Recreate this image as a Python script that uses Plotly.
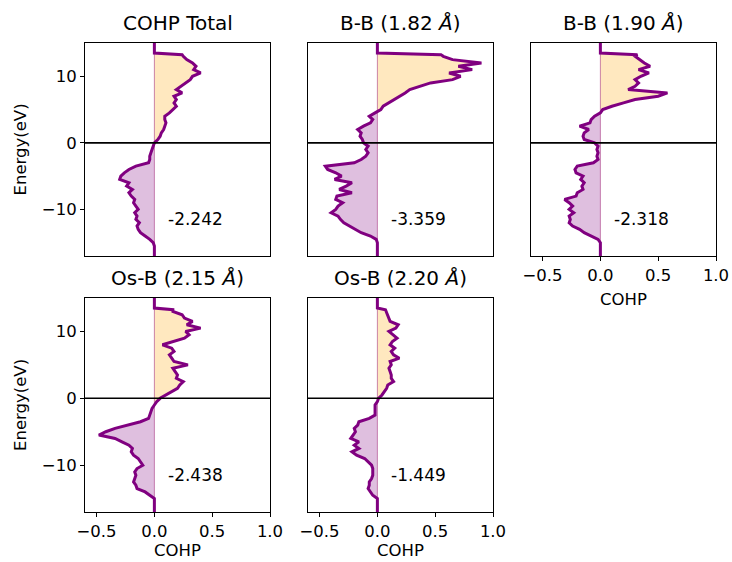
import plotly.graph_objects as go

# Energy grid (eV)
energy = [-17.0, -16.5, -16.0, -15.5, -15.0, -14.5, -14.0, -13.5, -13.0, -12.5,
          -12.0, -11.5, -11.0, -10.5, -10.0, -9.5, -9.0, -8.5, -8.0, -7.5,
          -7.0, -6.5, -6.0, -5.5, -5.0, -4.5, -4.0, -3.5, -3.0, -2.5,
          -2.0, -1.5, -1.0, -0.5, 0.0, 0.5, 1.0, 1.5, 2.0, 2.5,
          3.0, 3.5, 4.0, 4.5, 5.0, 5.5, 6.0, 6.5, 7.0, 7.5,
          8.0, 8.5, 9.0, 9.5, 10.0, 10.5, 11.0, 11.5, 12.0, 12.5,
          13.0, 13.25, 13.5, 14.0, 14.5, 15.0]

cohp_total = [0, 0, 0, 0, -0.01, -0.04, -0.08, -0.12, -0.14, -0.15,
              -0.13, -0.16, -0.15, -0.17, -0.14, -0.16, -0.18, -0.17, -0.20, -0.22,
              -0.19, -0.24, -0.22, -0.30, -0.29, -0.26, -0.22, -0.16, -0.05, -0.04,
              -0.04, -0.03, -0.02, -0.01, 0.0, 0.03, 0.05, 0.06, 0.08, 0.09,
              0.10, 0.09, 0.09, 0.13, 0.16, 0.19, 0.17, 0.19, 0.17, 0.24,
              0.19, 0.23, 0.27, 0.31, 0.33, 0.40, 0.34, 0.36, 0.33, 0.28,
              0.25, 0.24, 0.0, 0, 0, 0]

cohp_bb182 = [0, 0, 0, 0, 0, -0.01, -0.06, -0.14, -0.19, -0.25,
              -0.29, -0.32, -0.34, -0.40, -0.36, -0.34, -0.30, -0.36, -0.35, -0.22,
              -0.33, -0.27, -0.22, -0.37, -0.31, -0.36, -0.43, -0.45, -0.20, -0.14,
              -0.10, -0.08, -0.10, -0.08, -0.12, -0.13, -0.15, -0.14, -0.17, -0.12,
              -0.06, -0.04, -0.07, -0.02, 0.03, 0.05, 0.10, 0.14, 0.19, 0.24,
              0.28, 0.37, 0.46, 0.65, 0.72, 0.62, 0.82, 0.70, 0.90, 0.65,
              0.57, 0.55, 0.0, 0, 0, 0]

cohp_bb190 = [0, 0, 0, 0, 0, -0.02, -0.08, -0.14, -0.18, -0.24,
              -0.27, -0.26, -0.27, -0.23, -0.27, -0.24, -0.27, -0.31, -0.21, -0.20,
              -0.15, -0.16, -0.14, -0.17, -0.15, -0.21, -0.22, -0.20, -0.06, -0.02,
              -0.03, -0.02, -0.03, -0.02, -0.05, -0.14, -0.15, -0.14, -0.10, -0.18,
              -0.09, -0.08, -0.05, 0.0, 0.02, 0.10, 0.20, 0.30, 0.50, 0.58,
              0.24, 0.30, 0.33, 0.30, 0.35, 0.42, 0.33, 0.43, 0.38, 0.34,
              0.30, 0.32, 0.0, 0, 0, 0]

cohp_osb215 = [0, 0, 0, 0, 0, -0.04, -0.08, -0.15, -0.16, -0.18,
               -0.17, -0.16, -0.17, -0.15, -0.10, -0.12, -0.14, -0.18, -0.20, -0.19,
               -0.22, -0.28, -0.34, -0.48, -0.42, -0.34, -0.22, -0.12, -0.05, -0.04,
               -0.03, -0.02, 0.0, 0.02, 0.05, 0.10, 0.15, 0.20, 0.22, 0.25,
               0.19, 0.20, 0.18, 0.16, 0.29, 0.17, 0.15, 0.13, 0.17, 0.15,
               0.07, 0.17, 0.26, 0.30, 0.27, 0.40, 0.28, 0.33, 0.26, 0.24,
               0.16, 0.16, 0.0, 0, 0, 0]

cohp_osb220 = [0, 0, 0, 0, 0, -0.04, -0.06, -0.08, -0.07, -0.07,
               -0.05, -0.04, -0.04, -0.04, -0.05, -0.08, -0.11, -0.18, -0.22, -0.16,
               -0.20, -0.16, -0.23, -0.21, -0.19, -0.20, -0.17, -0.16, -0.07, -0.02,
               -0.02, -0.02, -0.02, 0.0, 0.01, 0.04, 0.06, 0.08, 0.09, 0.14,
               0.12, 0.12, 0.11, 0.10, 0.12, 0.11, 0.19, 0.14, 0.12, 0.15,
               0.11, 0.13, 0.17, 0.13, 0.10, 0.16, 0.18, 0.11, 0.10, 0.09,
               0.08, 0.07, 0.0, 0, 0, 0]

titles = ["COHP Total", "B-B (1.82 <i>Å</i>)", "B-B (1.90 <i>Å</i>)",
          "Os-B (2.15 <i>Å</i>)", "Os-B (2.20 <i>Å</i>)"]
icohp_labels = ["-2.242", "-3.359", "-2.318", "-2.438", "-1.449"]
series = [cohp_total, cohp_bb182, cohp_bb190, cohp_osb215, cohp_osb220]

x_ticks = [-0.5, 0.0, 0.5, 1.0]
y_ticks = [-10, 0, 10]
x_range = [-0.6, 1.0]
y_range = [-17, 15]
label_x, label_y = 0.1, -11.5

W, H = 732, 562
# panel pixel boxes on the page: (left, right, top, bottom)
boxes = [(85, 270, 43, 256), (308, 493, 43, 256), (531, 716, 43, 256),
         (85, 270, 298, 512), (308, 493, 298, 512)]
show_x = [False, False, True, True, True]
show_y = [True, False, False, True, False]


def px(v):
    return v / W


def py(v):
    return 1 - v / H


FONT = "DejaVu Sans"
fig = go.Figure()
annotations = []
shapes = []

for i, (vals, box) in enumerate(zip(series, boxes)):
    n = i + 1
    xa = "x" if n == 1 else f"x{n}"
    ya = "y" if n == 1 else f"y{n}"
    neg = [min(v, 0) for v in vals]
    pos = [max(v, 0) for v in vals]
    fig.add_trace(go.Scatter(x=neg, y=energy, xaxis=xa, yaxis=ya, mode="lines",
                             line=dict(width=0), fill="tozerox",
                             fillcolor="rgba(128,0,128,0.25)", hoverinfo="skip",
                             showlegend=False))
    fig.add_trace(go.Scatter(x=pos, y=energy, xaxis=xa, yaxis=ya, mode="lines",
                             line=dict(width=0), fill="tozerox",
                             fillcolor="rgba(255,165,0,0.25)", hoverinfo="skip",
                             showlegend=False))
    fig.add_trace(go.Scatter(x=[0, 0], y=[energy[0], energy[-1]], xaxis=xa, yaxis=ya,
                             mode="lines", line=dict(color="rgba(160,40,120,0.55)", width=1),
                             hoverinfo="skip", showlegend=False))
    fig.add_trace(go.Scatter(x=vals, y=energy, xaxis=xa, yaxis=ya, mode="lines",
                             line=dict(color="#800080", width=3),
                             showlegend=False))

    l, r, t, b = box
    axkey = "xaxis" if n == 1 else f"xaxis{n}"
    aykey = "yaxis" if n == 1 else f"yaxis{n}"
    fig.update_layout(**{
        axkey: dict(domain=[px(l), px(r)], anchor=ya, range=x_range,
                    automargin=False,
                    tickvals=x_ticks if show_x[i] else [],
                    tickformat=".1f", ticks="outside" if show_x[i] else "",
                    ticklen=4, tickcolor="black", showticklabels=show_x[i],
                    showgrid=False, zeroline=False, showline=True, mirror=True,
                    linecolor="black", linewidth=1,
                    tickfont=dict(family=FONT, size=16.5, color="black")),
        aykey: dict(domain=[py(b), py(t)], anchor=xa, range=y_range,
                    automargin=False,
                    tickvals=y_ticks if show_y[i] else [],
                    ticks="outside" if show_y[i] else "",
                    ticklen=4, tickcolor="black", showticklabels=show_y[i],
                    showgrid=False, zeroline=False, showline=True, mirror=True,
                    linecolor="black", linewidth=1,
                    tickfont=dict(family=FONT, size=16.5, color="black")),
    })
    shapes.append(dict(type="line", xref=f"{xa} domain", yref=ya, x0=0, x1=1,
                       y0=0, y1=0, line=dict(color="black", width=1.6)))
    # title
    annotations.append(dict(text=titles[i], xref="paper", yref="paper",
                            x=px((l + r) / 2), y=py(t - 20),
                            xanchor="center", yanchor="middle", showarrow=False,
                            font=dict(family=FONT, size=20, color="black")))
    # integrated value
    annotations.append(dict(text=icohp_labels[i], xref=xa, yref=ya, x=label_x,
                            y=label_y, xanchor="left", yanchor="middle",
                            showarrow=False,
                            font=dict(family=FONT, size=17, color="black")))
    if show_x[i]:
        annotations.append(dict(text="COHP", xref="paper", yref="paper",
                                x=px((l + r) / 2), y=py(min(b + 44, 550)),
                                xanchor="center", yanchor="middle", showarrow=False,
                                font=dict(family=FONT, size=16.5, color="black")))
    if show_y[i]:
        annotations.append(dict(text="Energy(eV)", xref="paper", yref="paper",
                                x=px(20), y=py((t + b) / 2), textangle=-90,
                                xanchor="center", yanchor="middle", showarrow=False,
                                font=dict(family=FONT, size=16.5, color="black")))

fig.update_layout(width=W, height=H, autosize=False,
                  margin=dict(l=0, r=0, t=0, b=0, pad=0, autoexpand=False),
                  paper_bgcolor="white", plot_bgcolor="white",
                  annotations=annotations, shapes=shapes,
                  font=dict(family=FONT, color="black"))

fig.write_html("out.html",
               config={"displayModeBar": False, "responsive": False},
               post_script="document.body.style.margin='0';"
                           "document.body.style.overflow='hidden';")
